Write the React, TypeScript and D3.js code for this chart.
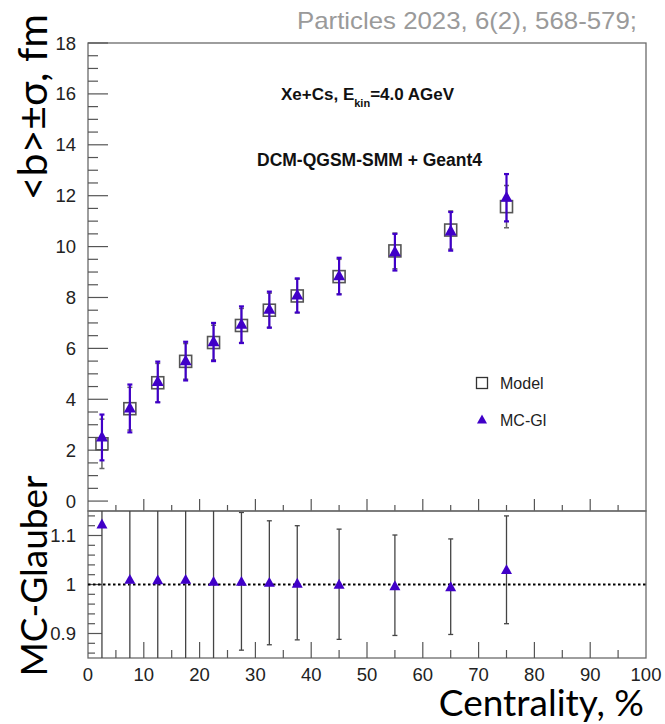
import React from "react";
import * as d3 from "d3";

// ---- data ----
const centrality = [2.5, 7.5, 12.5, 17.5, 22.5, 27.5, 32.5, 37.5, 45, 55, 65, 75];
const modelB = [2.25, 3.63, 4.65, 5.49, 6.23, 6.9, 7.5, 8.06, 8.82, 9.83, 10.65, 11.57];
const modelErr = [0.97, 0.84, 0.76, 0.7, 0.68, 0.67, 0.67, 0.66, 0.68, 0.7, 0.75, 0.83];
const mcglB = [2.5, 3.64, 4.68, 5.5, 6.25, 6.93, 7.52, 8.08, 8.84, 9.78, 10.6, 11.92];
const mcglErr = [0.9, 0.94, 0.8, 0.76, 0.75, 0.72, 0.71, 0.67, 0.72, 0.72, 0.76, 0.93];
const ratio = [1.122, 1.009, 1.008, 1.009, 1.005, 1.005, 1.003, 1.001, 0.999, 0.996, 0.994, 1.029];
const ratioHi = [1.3, 1.3, 1.3, 1.3, 1.3, 1.147, 1.13, 1.12, 1.113, 1.101, 1.093, 1.14];
const ratioLo = [0.7, 0.7, 0.7, 0.7, 0.7, 0.866, 0.877, 0.887, 0.888, 0.896, 0.898, 0.92];
const xTicks = [0, 10, 20, 30, 40, 50, 60, 70, 80, 90, 100];
const yTopTicks = [0, 2, 4, 6, 8, 10, 12, 14, 16, 18];
const yBotTicks = [0.9, 1, 1.1];
const yBotTickLabels = ["0.9", "1", "1.1"];

const PURPLE = "#4000c8";
const FRAME = "#6a6a6a";
const TICK = "#555";
const LABEL = "#222";
const TICKFONT = "'Liberation Sans', Arial, sans-serif";
const BIGFONT = "Lato, 'Open Sans', sans-serif";

export default function App() {
  const X0 = 88, X1 = 646;
  const TT = 43, TB = 511, BB = 658;
  const x = d3.scaleLinear().domain([0, 100]).range([X0, X1]);
  const yT = d3.scaleLinear().domain([-0.39, 18]).range([TB, TT]);
  const yB = d3.scaleLinear().domain([0.85, 1.15]).range([BB, TB]);

  const xMinor = d3.range(5, 100, 10);
  const yTopMinor = d3.range(0, 18.01, 0.5).filter((v) => Math.abs(v % 2) > 0.01);
  const yBotMinor = d3.range(0.86, 1.1401, 0.02).filter(
    (v) => !yBotTicks.some((t) => Math.abs(t - v) < 1e-6)
  );

  const tri = (cx: number, cy: number, s: number) => {
    const h = s * 0.9;
    return `M${cx},${cy - h * 0.62} L${cx + s / 2},${cy + h * 0.38} L${cx - s / 2},${cy + h * 0.38} Z`;
  };

  const capW = 2.5;

  return (
    <svg width={665} height={724} viewBox="0 0 665 724" style={{ display: "block", position: "absolute", left: 0, top: 0 }} xmlns="http://www.w3.org/2000/svg">
      <rect x={0} y={0} width={665} height={724} fill="#fff" />
      {/* header */}
      <text x={637} y={29} textAnchor="end" fontFamily={TICKFONT} fontSize={24} fill="#9a9a9a" textLength={340} lengthAdjust="spacingAndGlyphs">
        Particles 2023, 6(2), 568-579;
      </text>

      {/* ---------- top panel ---------- */}
      <rect x={X0} y={TT} width={X1 - X0} height={TB - TT} fill="none" stroke={FRAME} strokeWidth={1.3} />
      {yTopTicks.map((v) => (
        <g key={"yt" + v}>
          <line x1={X0} x2={X0 + 20} y1={yT(v)} y2={yT(v)} stroke={TICK} strokeWidth={1.2} />
          <text x={76} y={yT(v) + 6.5} textAnchor="end" fontFamily={TICKFONT} fontSize={18.5} fill={LABEL}>
            {v}
          </text>
        </g>
      ))}
      {yTopMinor.map((v) => (
        <line key={"ytm" + v} x1={X0} x2={X0 + 10} y1={yT(v)} y2={yT(v)} stroke={TICK} strokeWidth={1.2} />
      ))}
      {xTicks.slice(1, -1).map((v) => (
        <line key={"xt" + v} x1={x(v)} x2={x(v)} y1={TB} y2={TB - 12} stroke={TICK} strokeWidth={1.2} />
      ))}
      {xMinor.map((v) => (
        <line key={"xtm" + v} x1={x(v)} x2={x(v)} y1={TB} y2={TB - 6} stroke={TICK} strokeWidth={1.2} />
      ))}

      {/* model error bars */}
      {centrality.map((c, i) => {
        const cx = x(c);
        const lo = yT(modelB[i] - modelErr[i]);
        const hi = yT(modelB[i] + modelErr[i]);
        return (
          <g key={"me" + i} stroke="#666" strokeWidth={1.5}>
            <line x1={cx} x2={cx} y1={lo} y2={hi} />
            <line x1={cx - capW} x2={cx + capW} y1={lo} y2={lo} />
            <line x1={cx - capW} x2={cx + capW} y1={hi} y2={hi} />
          </g>
        );
      })}
      {centrality.map((c, i) => (
        <rect key={"ms" + i} x={x(c) - 6} y={yT(modelB[i]) - 6} width={12} height={12} fill="none" stroke="#555" strokeWidth={1.6} />
      ))}
      {/* MC-Gl error bars */}
      {centrality.map((c, i) => {
        const cx = x(c);
        const lo = yT(mcglB[i] - mcglErr[i]);
        const hi = yT(mcglB[i] + mcglErr[i]);
        return (
          <g key={"ge" + i} stroke={PURPLE} strokeWidth={2.2}>
            <line x1={cx} x2={cx} y1={lo} y2={hi} />
            <line x1={cx - capW} x2={cx + capW} y1={lo} y2={lo} />
            <line x1={cx - capW} x2={cx + capW} y1={hi} y2={hi} />
          </g>
        );
      })}
      {centrality.map((c, i) => (
        <path key={"gt" + i} d={tri(x(c), yT(mcglB[i]), 12)} fill={PURPLE} />
      ))}

      {/* annotations */}
      <text x={281} y={100} fontFamily={TICKFONT} fontWeight="bold" fontSize={17} fill="#111">
        Xe+Cs, E
        <tspan fontSize={11} dy={7}>kin</tspan>
        <tspan dy={-7}>=4.0 AGeV</tspan>
      </text>
      <text x={257} y={166} fontFamily={TICKFONT} fontWeight="bold" fontSize={17.5} fill="#111">
        DCM-QGSM-SMM + Geant4
      </text>

      {/* legend */}
      <rect x={482 - 5.5} y={383 - 5.5} width={11} height={11} fill="none" stroke="#333" strokeWidth={1.3} />
      <text x={500} y={389} fontFamily={TICKFONT} fontSize={16} fill="#222">Model</text>
      <path d={tri(482, 420, 10)} fill={PURPLE} />
      <text x={500} y={426} fontFamily={TICKFONT} fontSize={16} fill="#222">MC-Gl</text>

      {/* ---------- bottom panel ---------- */}
      <rect x={X0} y={TB} width={X1 - X0} height={BB - TB} fill="none" stroke={FRAME} strokeWidth={1.3} />
      {yBotTicks.map((v, i) => (
        <g key={"yb" + v}>
          <line x1={X0} x2={X0 + 14} y1={yB(v)} y2={yB(v)} stroke={TICK} strokeWidth={1.2} />
          <text x={76} y={yB(v) + 6.5} textAnchor="end" fontFamily={TICKFONT} fontSize={18.5} fill={LABEL}>
            {yBotTickLabels[i]}
          </text>
        </g>
      ))}
      {yBotMinor.map((v) => (
        <line key={"ybm" + v} x1={X0} x2={X0 + 7} y1={yB(v)} y2={yB(v)} stroke={TICK} strokeWidth={1.2} />
      ))}
      {xTicks.map((v) => (
        <g key={"xb" + v}>
          {v > 0 && v < 100 && (
            <line x1={x(v)} x2={x(v)} y1={BB} y2={BB - 16} stroke={TICK} strokeWidth={1.2} />
          )}
          <text x={x(v)} y={681} textAnchor="middle" fontFamily={TICKFONT} fontSize={18.5} fill={LABEL}>
            {v}
          </text>
        </g>
      ))}
      {xMinor.map((v) => (
        <line key={"xbm" + v} x1={x(v)} x2={x(v)} y1={BB} y2={BB - 8} stroke={TICK} strokeWidth={1.2} />
      ))}
      <line x1={X0} x2={X1} y1={yB(1)} y2={yB(1)} stroke="#000" strokeWidth={2} strokeDasharray="2.5 2.5" />
      {centrality.map((c, i) => {
        const cx = x(c);
        const hiV = Math.min(ratioHi[i], 1.15);
        const loV = Math.max(ratioLo[i], 0.85);
        const hi = yB(hiV);
        const lo = yB(loV);
        return (
          <g key={"re" + i} stroke="#444" strokeWidth={1.3}>
            <line x1={cx} x2={cx} y1={lo} y2={hi} />
            {ratioHi[i] < 1.15 && <line x1={cx - capW} x2={cx + capW} y1={hi} y2={hi} />}
            {ratioLo[i] > 0.85 && <line x1={cx - capW} x2={cx + capW} y1={lo} y2={lo} />}
          </g>
        );
      })}
      {centrality.map((c, i) => (
        <path key={"rt" + i} d={tri(x(c), yB(ratio[i]), 11)} fill={PURPLE} />
      ))}

      {/* axis titles */}
      <text transform="translate(47,14) rotate(-90)" textAnchor="end" fontFamily={BIGFONT} fontSize={41} fill="#000">
        {"<b>±σ, fm"}
      </text>
      <text transform="translate(47,576) rotate(-90)" textAnchor="middle" fontFamily={BIGFONT} fontSize={37} fill="#000">
        MC-Glauber
      </text>
      <text x={644} y={716} textAnchor="end" fontFamily={BIGFONT} fontSize={37} fill="#000">
        Centrality, %
      </text>
    </svg>
  );
}
